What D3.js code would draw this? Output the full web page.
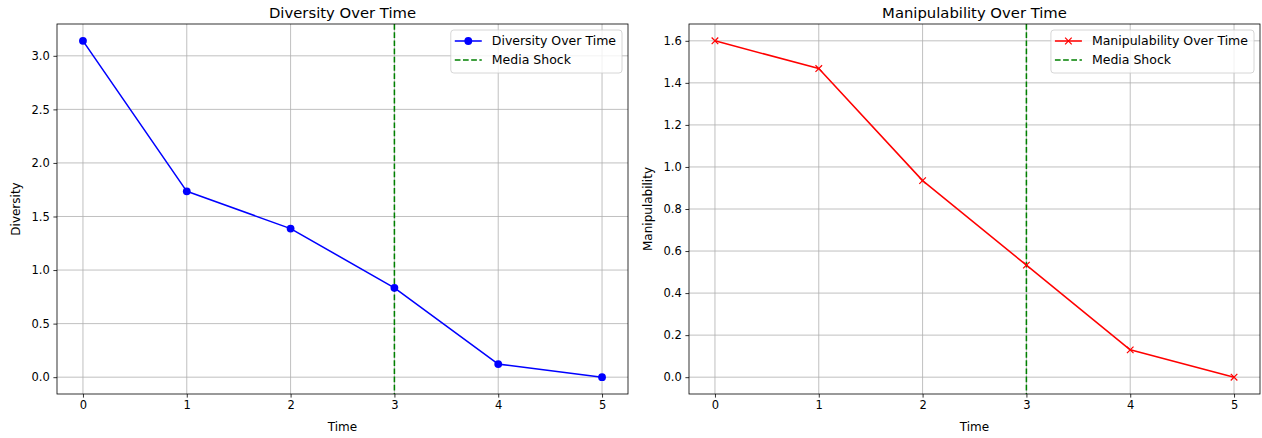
<!DOCTYPE html>
<html><head><meta charset="utf-8">
<script src="https://cdn.jsdelivr.net/npm/d3@7"></script>
<style>body{margin:0;background:#fff}svg{display:block}text{font-family:"DejaVu Sans",sans-serif;fill:#000}</style>
</head><body><svg id="c" width="1262" height="438"></svg>
<script>
const time = [0, 1, 2, 3, 4, 5];
const diversity = [3.14, 1.735, 1.387, 0.834, 0.122, 0.0];
const manipulability = [1.6, 1.468, 0.935, 0.533, 0.13, 0.0];
const shockTime = 3;
const xTicks = [0, 1, 2, 3, 4, 5];
const divTicks = [0.0, 0.5, 1.0, 1.5, 2.0, 2.5, 3.0];
const manTicks = [0.0, 0.2, 0.4, 0.6, 0.8, 1.0, 1.2, 1.4, 1.6];

const svg = d3.select("#c");
const TFS = 11.5, LFS = 12, LEG = 12.5, TITLE = 14.8;

function panel(cfg) {
  const {x0, x1, y0, y1, values, yTicks, title, ylabel, color, marker, label, ylabX} = cfg;
  const ext = d3.extent(values);
  const pad = (ext[1] - ext[0]) * 0.05;
  const x = d3.scaleLinear().domain([-0.25, 5.25]).range([x0, x1]);
  const y = d3.scaleLinear().domain([ext[0] - pad, ext[1] + pad]).range([y1, y0]);
  const g = svg.append("g");
  g.selectAll(".gx").data(xTicks).join("line")
    .attr("x1", d => x(d)).attr("x2", d => x(d)).attr("y1", y0).attr("y2", y1)
    .attr("stroke", "#b0b0b0").attr("stroke-width", 0.8);
  g.selectAll(".gy").data(yTicks).join("line")
    .attr("y1", d => y(d)).attr("y2", d => y(d)).attr("x1", x0).attr("x2", x1)
    .attr("stroke", "#b0b0b0").attr("stroke-width", 0.8);
  const xa = g.append("g").attr("transform", `translate(0,${y1})`)
    .call(d3.axisBottom(x).tickValues(xTicks).tickFormat(d3.format("d")).tickSizeInner(3.6).tickSizeOuter(0).tickPadding(3.6));
  const ya = g.append("g").attr("transform", `translate(${x0},0)`)
    .call(d3.axisLeft(y).tickValues(yTicks).tickFormat(d3.format(".1f")).tickSizeInner(3.6).tickSizeOuter(0).tickPadding(3.6));
  [xa, ya].forEach(a => {
    a.select(".domain").remove();
    a.selectAll("line").attr("stroke", "#000").attr("stroke-width", 0.8);
    a.selectAll("text").attr("font-size", TFS).attr("font-family", "DejaVu Sans").attr("fill", "#000");
  });
  g.append("line").attr("x1", x(shockTime)).attr("x2", x(shockTime)).attr("y1", y0).attr("y2", y1)
    .attr("stroke", "#008000").attr("stroke-width", 1.54).attr("stroke-dasharray", "5.7,2.5");
  const line = d3.line().x((d, i) => x(time[i])).y(d => y(d));
  g.append("path").datum(values).attr("d", line).attr("fill", "none")
    .attr("stroke", color).attr("stroke-width", 1.54).attr("stroke-linejoin", "round");
  function drawMarker(sel, cx, cy) {
    if (marker === "o") {
      sel.append("circle").attr("cx", cx).attr("cy", cy).attr("r", 3.9).attr("fill", color);
    } else {
      const s = 3.3;
      sel.append("path").attr("d", `M${cx - s},${cy - s}L${cx + s},${cy + s}M${cx - s},${cy + s}L${cx + s},${cy - s}`)
        .attr("stroke", color).attr("stroke-width", 1.2).attr("fill", "none");
    }
  }
  values.forEach((v, i) => drawMarker(g, x(time[i]), y(v)));
  g.append("rect").attr("x", x0).attr("y", y0).attr("width", x1 - x0).attr("height", y1 - y0)
    .attr("fill", "none").attr("stroke", "#000").attr("stroke-width", 0.8);
  g.append("text").attr("x", (x0 + x1) / 2).attr("y", 17.5).attr("text-anchor", "middle").attr("font-size", TITLE).text(title);
  g.append("text").attr("x", (x0 + x1) / 2).attr("y", 431).attr("text-anchor", "middle").attr("font-size", LFS).text("Time");
  g.append("text").attr("transform", `translate(${ylabX},${(y0 + y1) / 2}) rotate(-90)`).attr("text-anchor", "middle")
    .attr("dy", "0.35em").attr("font-size", LFS).text(ylabel);
  const lg = g.append("g");
  const t1 = lg.append("text").attr("font-size", LEG).text(label);
  const t2 = lg.append("text").attr("font-size", LEG).text("Media Shock");
  const tw = Math.max(t1.node().getComputedTextLength(), t2.node().getComputedTextLength());
  const bw = 41 + tw + 6;
  const bx = x1 - 6 - bw, by = y0 + 6, bh = 43;
  lg.insert("rect", "text").attr("x", bx).attr("y", by).attr("width", bw).attr("height", bh).attr("rx", 3)
    .attr("fill", "#fff").attr("fill-opacity", 0.8).attr("stroke", "#cccccc").attr("stroke-width", 0.8);
  const r1 = by + 11, r2 = by + 30;
  lg.append("line").attr("x1", bx + 4).attr("x2", bx + 31).attr("y1", r1).attr("y2", r1).attr("stroke", color).attr("stroke-width", 1.54);
  drawMarker(lg, bx + 17.5, r1);
  lg.append("line").attr("x1", bx + 4).attr("x2", bx + 31).attr("y1", r2).attr("y2", r2).attr("stroke", "#008000")
    .attr("stroke-width", 1.54).attr("stroke-dasharray", "5.7,2.5");
  t1.attr("x", bx + 41).attr("y", r1).attr("dy", "0.35em");
  t2.attr("x", bx + 41).attr("y", r2).attr("dy", "0.35em");
}

panel({x0: 57, x1: 628, y0: 24, y1: 394, values: diversity, yTicks: divTicks, title: "Diversity Over Time",
  ylabel: "Diversity", color: "#0000ff", marker: "o", label: "Diversity Over Time", ylabX: 16});
panel({x0: 689, x1: 1260, y0: 24, y1: 394, values: manipulability, yTicks: manTicks, title: "Manipulability Over Time",
  ylabel: "Manipulability", color: "#ff0000", marker: "x", label: "Manipulability Over Time", ylabX: 648});
</script></body></html>
